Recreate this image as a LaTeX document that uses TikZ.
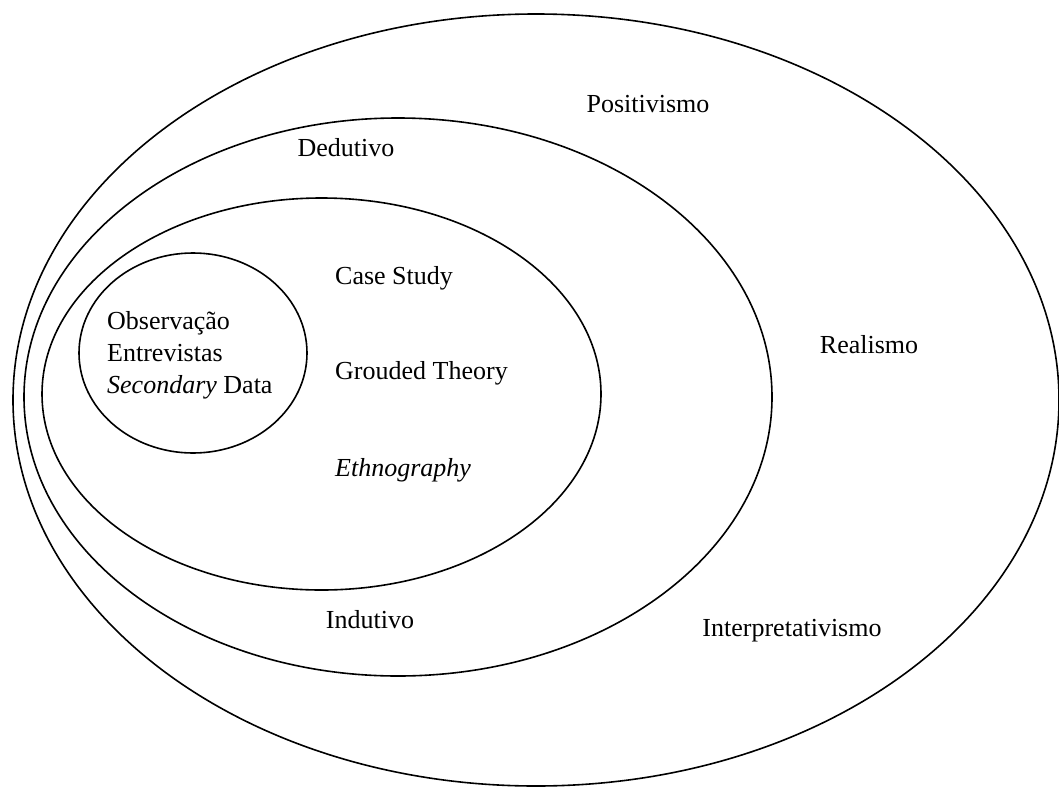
\documentclass[tikz,border=0pt]{standalone}
\usepackage{fontspec}
\setmainfont{Liberation Serif}
\begin{document}
\begin{tikzpicture}[x=1pt,y=-1pt,
  ring/.style={draw=black,line width=1.6pt},
  lbl/.style={inner sep=0pt,anchor=base,font=\fontsize{26}{32}\selectfont},
  lblw/.style={lbl,anchor=base west}]
\useasboundingbox (0,0) rectangle (1059,787);
% nested regions
\draw[ring] (536,400) ellipse [x radius=523, y radius=386];
\draw[ring] (398,397) ellipse [x radius=374, y radius=279];
\draw[ring] (321.5,394) ellipse [x radius=279.5, y radius=196];
\draw[ring] (193,353) ellipse [x radius=114, y radius=100];
% outer labels
\node[lbl] (pos) at (648,112) {Positivismo};
\node[lbl] (rea) at (869,353) {Realismo};
\node[lbl] (int) at (792,636) {Interpretativismo};
% reasoning labels
\node[lbl] (ded) at (346,156) {Dedutivo};
\node[lbl] (ind) at (370,628) {Indutivo};
% strategies
\node[lblw] (cs) at (335,284) {Case Study};
\node[lblw] (gt) at (335,379) {Grouded Theory};
\node[lblw] (eth) at (335,476) {\textit{Ethnography}};
% data collection
\node[lblw] (obs) at (107,329) {Observação};
\node[lblw] (ent) at (107,361) {Entrevistas};
\node[lblw] (sec) at (107,393) {\textit{Secondary} Data};
\end{tikzpicture}
\end{document}
